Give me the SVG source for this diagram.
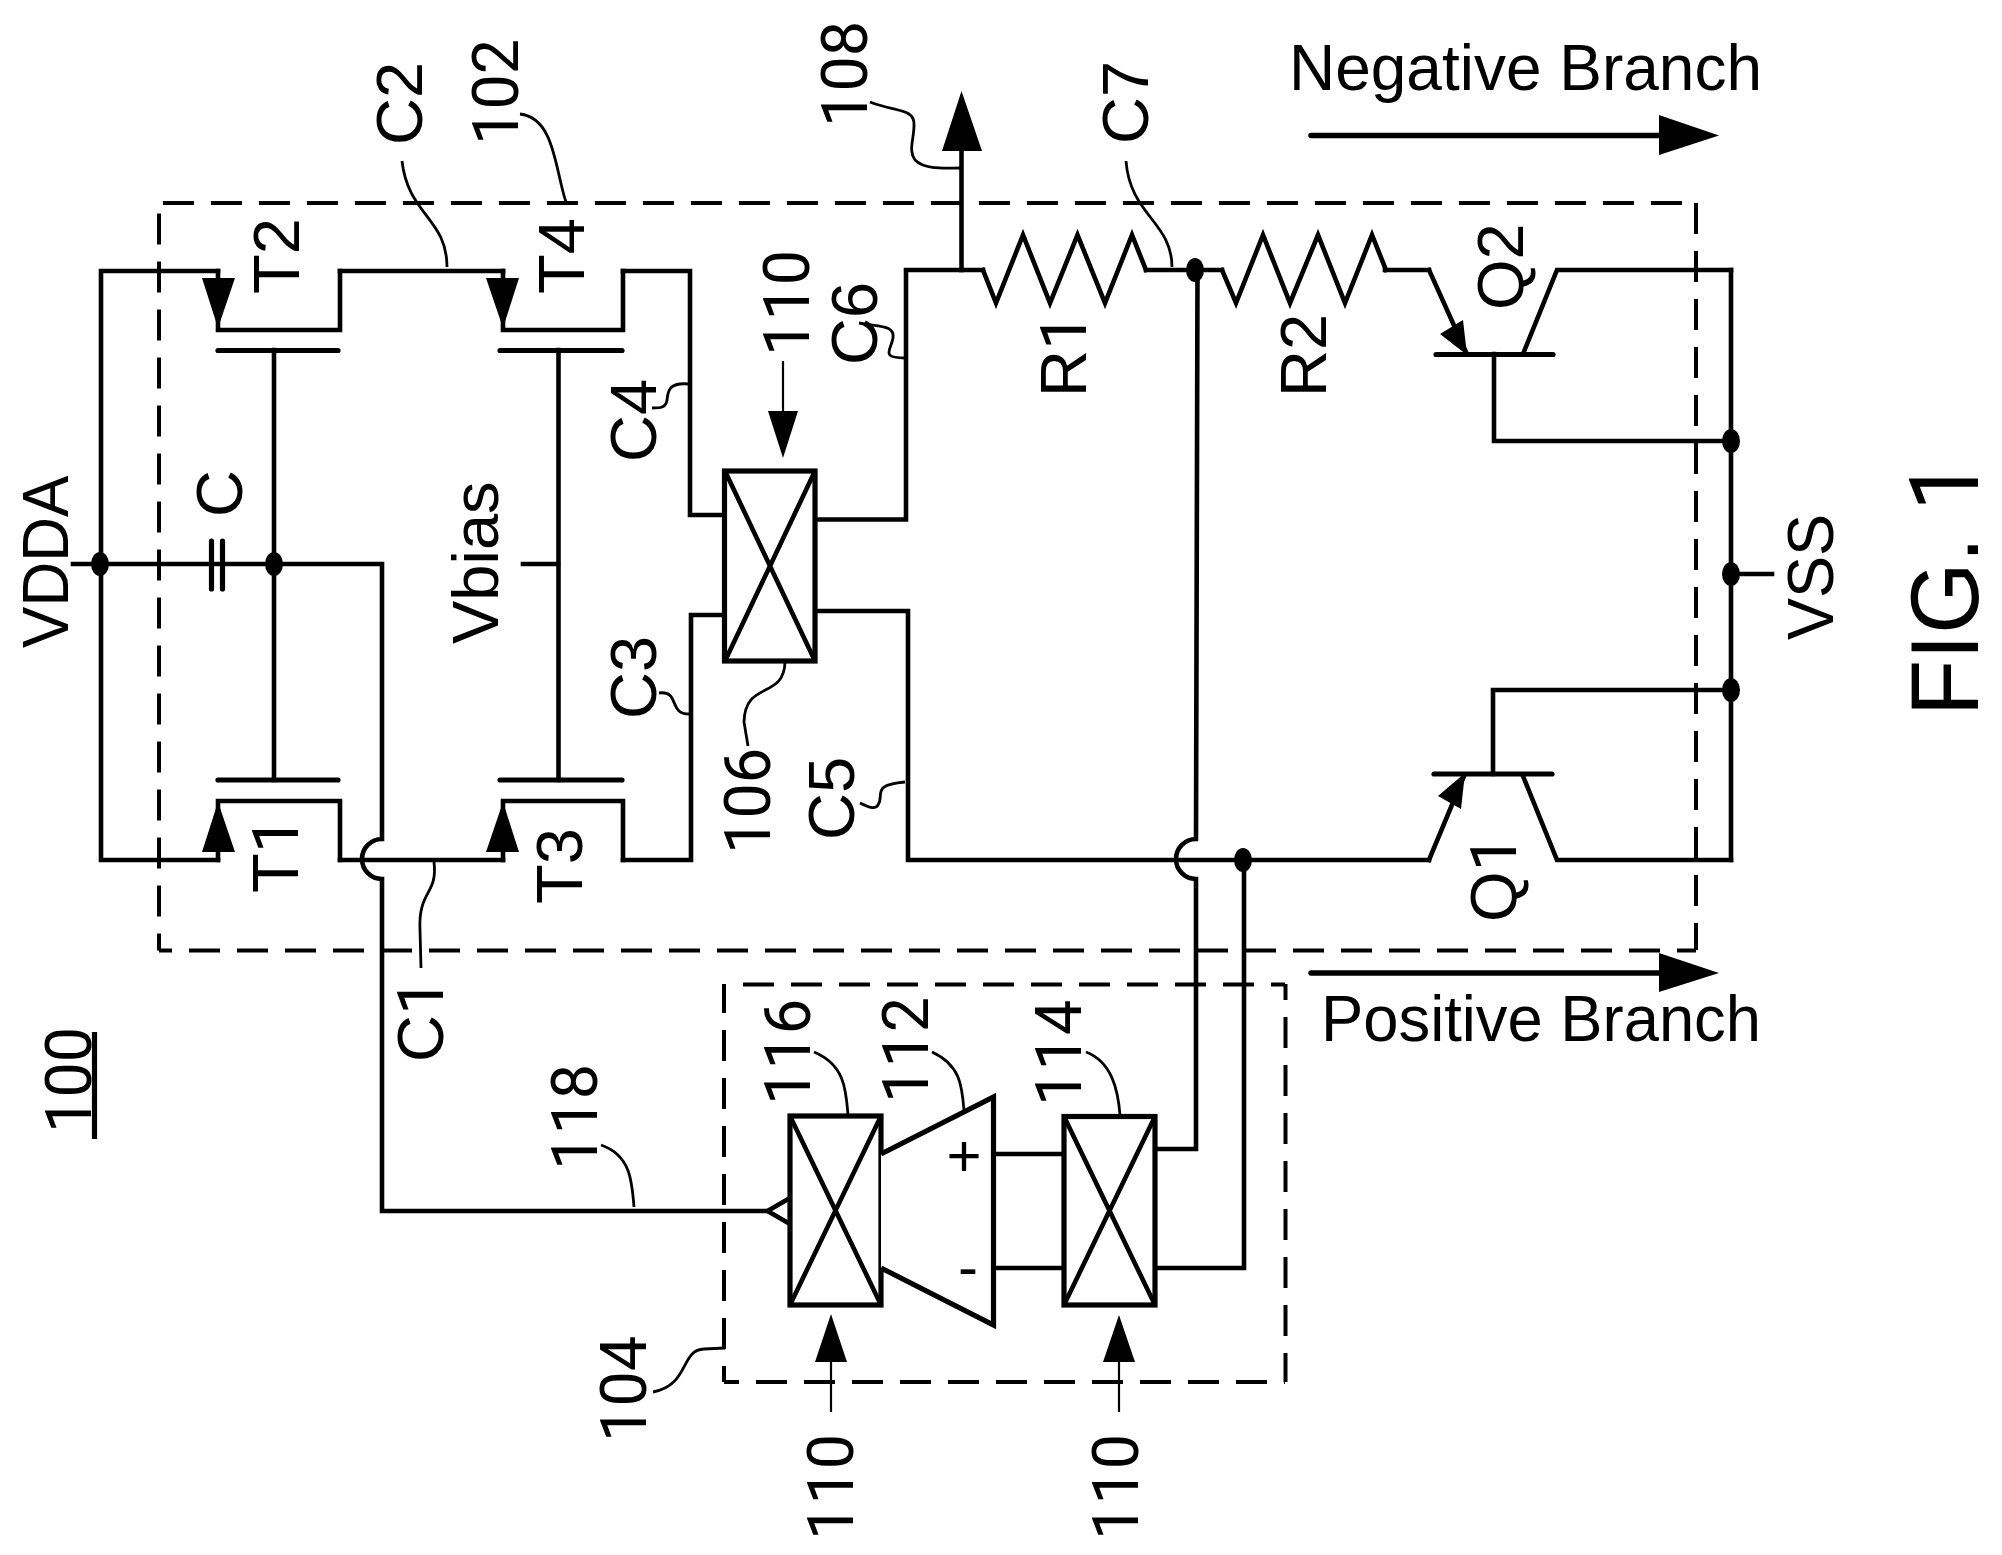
<svg xmlns="http://www.w3.org/2000/svg" width="2002" height="1555" viewBox="0 0 2002 1555">
<style>
text{font-family:"Liberation Sans",Arial,sans-serif;font-size:65px;fill:#000}
.o{font-family:Roboto,"Liberation Sans",sans-serif}
.w{fill:none;stroke:#000;stroke-width:4.6;stroke-linejoin:miter;stroke-linecap:square}
.g{fill:none;stroke:#000;stroke-width:5.2;stroke-linecap:round}
.f{fill:#000;stroke:none}
.l{fill:none;stroke:#000;stroke-width:2.8}
.t{fill:none;stroke:#000;stroke-width:2.2}
.d{fill:none;stroke:#000;stroke-width:4;stroke-dasharray:31 17}
.b{fill:#fff;stroke:#000;stroke-width:5.2;stroke-linejoin:miter}
.x{fill:none;stroke:#000;stroke-width:4.6}
</style>
<rect width="2002" height="1555" fill="#fff"/>
<g id="boundary-102">
<path class="d" d="M163 203H1696"/><path class="d" d="M1696 203V950"/><path class="d" d="M1696 950.500H159" stroke-dashoffset="12"/><path class="d" d="M159 950.500V203" stroke-dashoffset="14"/>
<text class="o" transform="translate(518 145) rotate(-90) scale(.97 1)">102</text>
<path class="l" d="M520 114C555 118 555 170 566 202"/>
</g>
<g id="boundary-104">
<path class="d" d="M743 984.500H1285"/><path class="d" d="M1285.500 1382V984" stroke-dashoffset="2"/><path class="d" d="M724 1382H1285" stroke-dashoffset="16"/><path class="d" d="M724 1382V984" stroke-dashoffset="15"/>
<text class="o" transform="translate(645.500 1442) rotate(-90) scale(.97 1)">104</text>
<path class="l" d="M653 1392C690 1385 680 1350 704 1349L725 1348"/>
</g>
<g id="connectors">
<path class="w" d="M218 271H101V860H218"/>
<path class="w" d="M73 564H274"/>
<path class="w" d="M340 271H503"/>
<path class="w" d="M340 860H503"/>
<path class="w" d="M623 271H690V515H725"/>
<path class="w" d="M623 860H691V615H725"/>
<path class="w" d="M815 519.500H906V270H983"/>
<path class="w" d="M815 611H908V860H1429"/>
<path class="w" d="M961.500 270V150"/>
<path class="w" d="M1146 270H1222"/>
<path class="w" d="M1385 270H1429"/>
<path class="w" d="M274 350V780"/>
<path class="w" d="M558.500 350V780"/>
<path class="w" d="M523 564H558"/>
<path class="w" d="M274 564H382V839A20 20 0 0 0 382 879V1211H768"/>
<path class="w" d="M1197.500 270L1196 839A20 20 0 0 0 1196 879V1149H1155"/>
<path class="w" d="M1244 860V1268H1155"/>
<path class="w" d="M995 1154H1064"/>
<path class="w" d="M995 1268H1064"/>
<path class="w" d="M1731 270V860"/>
<path class="w" d="M1731 574H1772"/>
<path class="f" d="M961.500 91L982 151H942Z"/>
<ellipse class="f" cx="100" cy="564" rx="9" ry="12"/>
<ellipse class="f" cx="274" cy="564" rx="9" ry="12"/>
<ellipse class="f" cx="1195" cy="270" rx="9" ry="12"/>
<ellipse class="f" cx="1243" cy="860" rx="9" ry="12"/>
<ellipse class="f" cx="1731" cy="441" rx="9" ry="12"/>
<ellipse class="f" cx="1731" cy="574" rx="9" ry="12"/>
<ellipse class="f" cx="1731" cy="690" rx="9" ry="12"/>
</g>
<g id="T2">
<path class="w" d="M218 271V330H340V271"/><path class="f" d="M202 278H235L218 328Z"/><path class="g" d="M218 350.500H338"/>
<text transform="translate(299 294) rotate(-90)">T2</text>
</g>
<g id="T4">
<path class="w" d="M503 271V330H623V271"/><path class="f" d="M486 278H519L503 328Z"/><path class="g" d="M500 350.500H622"/>
<text transform="translate(584 294) rotate(-90)">T4</text>
</g>
<g id="T1">
<path class="w" d="M218 860V801H340V860"/><path class="f" d="M202 852H235L218 802Z"/><path class="g" d="M218 780H338"/>
<text transform="translate(298 893) rotate(-90)">T<tspan class="o">1</tspan></text>
</g>
<g id="T3">
<path class="w" d="M503 860V801H623V860"/><path class="f" d="M486 852H519L503 802Z"/><path class="g" d="M500 780H622"/>
<text transform="translate(582 904) rotate(-90)">T3</text>
</g>
<g id="C">
<path class="g" d="M211.500 541V589M222.500 541V589" stroke-linecap="butt"/>
<text transform="translate(242 517) rotate(-90)">C</text>
</g>
<g id="R1">
<path class="w" d="M983 270L996 303L1023 235L1050 303L1077.500 235L1105 303L1132 235L1146 270"/>
<text transform="translate(1086 397) rotate(-90)">R<tspan class="o">1</tspan></text>
</g>
<g id="R2">
<path class="w" d="M1222 270L1236 303L1263 235L1290 303L1318 235L1345 303L1372 235L1386 270"/>
<text transform="translate(1326 397) rotate(-90)">R2</text>
</g>
<g id="Q2">
<path class="w" d="M1429 270L1466 352"/><path class="f" d="M1467 355L1440 334L1463 320Z"/>
<path class="g" d="M1436 354.500H1553"/>
<path class="w" d="M1523 354L1557 270H1731"/>
<path class="w" d="M1494 354V441H1731"/>
<text transform="translate(1523 310) rotate(-90)">Q2</text>
</g>
<g id="Q1">
<path class="w" d="M1429 860L1464 776"/><path class="f" d="M1465 773L1438 796L1461 809Z"/>
<path class="g" d="M1434 774H1552"/>
<path class="w" d="M1523 776L1557 860H1731"/>
<path class="w" d="M1493 774V690H1731"/>
<text transform="translate(1515.500 922) rotate(-90)">Q<tspan class="o">1</tspan></text>
</g>
<g id="switch-106">
<rect class="b" x="724.500" y="471" width="90.500" height="190"/><path class="x" d="M725 471L815 661M815 471L725 661"/>
<text class="o" transform="translate(770 854) rotate(-90) scale(.97 1)">106</text>
<path class="l" d="M785 662C784 700 745 680 744 722L748 746"/>
</g>
<g id="switch-116">
<rect class="b" x="790" y="1116" width="91" height="189"/><path class="x" d="M790 1116L881 1305M881 1116L790 1305"/>
<path class="x" d="M790 1198L767.500 1211L790 1224"/>
<text class="o" transform="translate(810 1105) rotate(-90) scale(.97 1)">116</text>
<path class="l" d="M814 1052C845 1065 846 1090 848 1115"/>
</g>
<g id="switch-114">
<rect class="b" x="1064" y="1116.500" width="91" height="188.500"/><path class="x" d="M1064 1116.500L1155 1305M1155 1116.500L1064 1305"/>
<text class="o" transform="translate(1081 1106) rotate(-90) scale(.97 1)">114</text>
<path class="l" d="M1086 1052C1112 1062 1118 1090 1120 1115"/>
</g>
<g id="amp-112">
<path class="b" d="M881 1154L993.500 1097V1325L881 1268"/>
<text x="964" y="1176" text-anchor="middle" style="font-size:60px">+</text>
<text x="968" y="1287" text-anchor="middle" style="font-size:60px">-</text>
<text class="o" transform="translate(928 1103) rotate(-90) scale(.97 1)">112</text>
<path class="l" d="M932 1052C960 1065 962 1085 964 1110"/>
</g>
<g id="labels">
<text transform="translate(68 648) rotate(-90) scale(.955 1)">VDDA</text>
<text transform="translate(498 644) rotate(-90)">Vbias</text>
<text transform="translate(1833 640) rotate(-90) scale(.97 1)">VSS</text>
<text transform="translate(1978 716) rotate(-90) scale(.95 1)" style="font-size:97px">FIG. <tspan class="o">1</tspan></text>
<text class="o" transform="translate(90.500 1133) rotate(-90) scale(.97 1)">100</text>
<path class="g" d="M94.500 1032V1139" style="stroke-linecap:butt"/>
<text transform="translate(422 145) rotate(-90)">C2</text><path class="l" d="M402 161C408 215 447 218 447 267"/>
<text transform="translate(656 462) rotate(-90)">C4</text><path class="l" d="M689 384C668 382 668 392 667 400C666 408 660 408 652 408"/>
<text transform="translate(656 719) rotate(-90)">C3</text><path class="l" d="M659 693C680 690 668 714 689 714"/>
<text transform="translate(443 1062) rotate(-90)">C<tspan class="o">1</tspan></text><path class="l" d="M434 862C438 895 418 890 420 930L421 968"/>
<text class="o" transform="translate(867 127) rotate(-90) scale(.97 1)">108</text><path class="l" d="M870 102C895 112 915 108 914 125C914 140 908 150 915 160C925 170 945 168 960 168"/>
<text transform="translate(1148 144) rotate(-90)">C7</text><path class="l" d="M1126 161C1130 215 1172 222 1172 267"/>
<text transform="translate(876.500 365) rotate(-90)">C6</text><path class="l" d="M859 323C880 327 895 325 893 338C891 350 880 358 905 358"/>
<text transform="translate(854 840) rotate(-90)">C5</text><path class="l" d="M905 782C870 785 885 795 878 805C875 810 868 807 860 803"/>
<text class="o" transform="translate(597 1170) rotate(-90) scale(.97 1)">118</text><path class="l" d="M601 1145C630 1155 632 1180 634 1207"/>
</g>
<g id="control-110-top">
<text class="o" transform="translate(808.500 356) rotate(-90) scale(.97 1)">110</text>
<path class="t" d="M783 361V415"/><path class="f" d="M768 411H798L783 458Z"/>
</g>
<g id="control-110-left">
<text class="o" transform="translate(853 1540) rotate(-90) scale(.97 1)">110</text>
<path class="t" d="M831 1412V1360"/><path class="f" d="M815 1362H847L831 1314Z"/>
</g>
<g id="control-110-right">
<text class="o" transform="translate(1138 1540) rotate(-90) scale(.97 1)">110</text>
<path class="t" d="M1119 1412V1360"/><path class="f" d="M1103 1362H1135L1119 1315Z"/>
</g>
<g id="negative-branch">
<text x="1289" y="90" textLength="473" lengthAdjust="spacingAndGlyphs">Negative Branch</text>
<path class="g" d="M1311 135.500H1662" style="stroke-width:5.500"/><path class="f" d="M1659 115L1719 135.500L1659 155Z"/>
</g>
<g id="positive-branch">
<text x="1321" y="1041" textLength="440" lengthAdjust="spacingAndGlyphs">Positive Branch</text>
<path class="g" d="M1311 973H1662" style="stroke-width:5.500"/><path class="f" d="M1659 953L1719 973L1659 992Z"/>
</g>
</svg>
